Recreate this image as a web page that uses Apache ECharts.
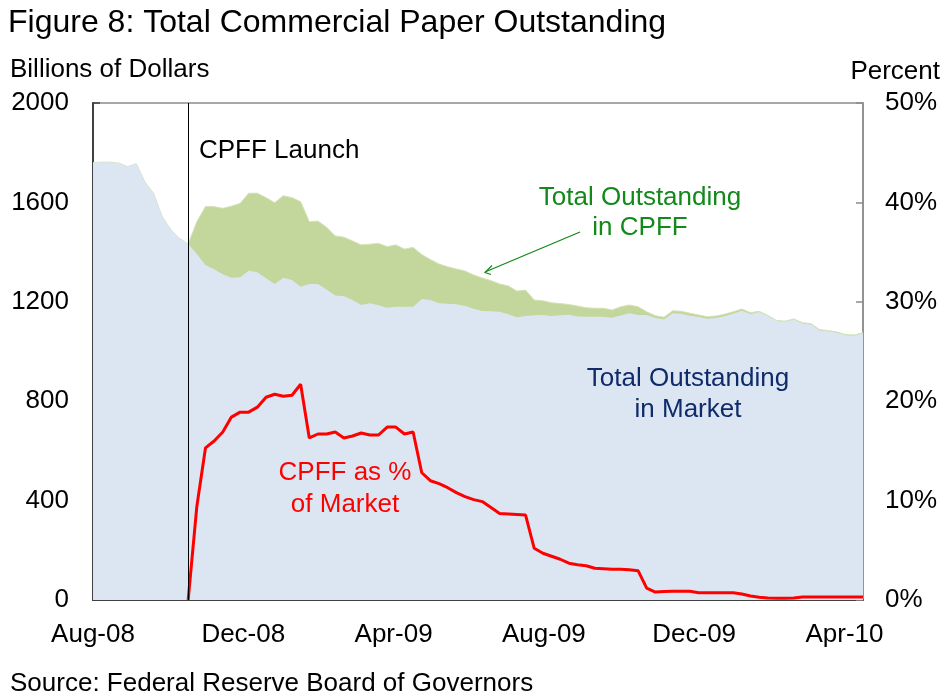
<!DOCTYPE html>
<html>
<head>
<meta charset="utf-8">
<title>Figure 8: Total Commercial Paper Outstanding</title>
<script src="https://cdn.jsdelivr.net/npm/echarts@6/dist/echarts.min.js"></script>
</head>
<body style="margin:0;background:#fff">
<div id="main" style="width:945px;height:696px;"></div>
<script>
// weekly points, index 0 = 6 Aug 2008 ... index 89 = 21 Apr 2010
var xLabels = ['Aug-08', 'Dec-08', 'Apr-09', 'Aug-09', 'Dec-09', 'Apr-10'];
var labelStep = 121.6 / 7;   // 4 months in weeks
var launchWeek = 11;

// total outstanding in market, $bn (blue)
var market = [
  1760, 1762, 1762, 1758, 1744, 1756, 1682, 1637, 1543, 1490,
  1455, 1433, 1392, 1348, 1331, 1311, 1297, 1299, 1325, 1319,
  1295, 1272, 1297, 1288, 1261, 1272, 1272, 1250, 1225, 1222,
  1207, 1187, 1194, 1186, 1176, 1180, 1180, 1180, 1211, 1207,
  1194, 1192, 1190, 1183, 1172, 1163, 1162, 1160, 1150, 1138,
  1143, 1146, 1147, 1143, 1146, 1148, 1141, 1140, 1140, 1140,
  1136, 1145, 1154, 1147, 1147, 1135, 1129, 1154, 1152, 1144,
  1139, 1132, 1135, 1142, 1152, 1164, 1151, 1159, 1143, 1123,
  1120, 1129, 1113, 1109, 1085, 1081, 1075, 1065, 1063, 1073
];

// total outstanding in CPFF, $bn (green, sits on top of market)
var cpff = [
  0, 0, 0, 0, 0, 0, 0, 0, 0, 0,
  0, 0, 130, 235, 252, 265, 288, 297, 312, 318,
  324, 327, 330, 331, 342, 250, 253, 250, 240, 238,
  238, 242, 238, 249, 246, 249, 232, 239, 179, 163,
  158, 149, 142, 141, 136, 133, 123, 112, 114, 105,
  104, 61, 57, 53, 47, 41, 42, 36, 34, 34,
  31, 35, 33, 33, 13, 9, 9, 10, 10, 10,
  8, 8, 8, 8, 8, 7, 5, 3, 2, 2,
  2, 2, 3, 3, 3, 3, 3, 3, 3, 3
];

// CPFF as % of market, from the launch week on (right axis)
var cpffShare = [
  0, 9.4, 15.3, 16.0, 16.9, 18.4, 18.9, 18.9, 19.4, 20.4,
  20.7, 20.5, 20.6, 21.7, 16.3, 16.7, 16.7, 16.9, 16.3, 16.5,
  16.8, 16.6, 16.6, 17.4, 17.4, 16.7, 16.9, 12.8, 12.0, 11.7,
  11.3, 10.8, 10.4, 10.1, 9.9, 9.3, 8.7, 8.65, 8.6, 8.55,
  5.2, 4.7, 4.4, 4.1, 3.7, 3.55, 3.45, 3.2, 3.15, 3.1,
  3.1, 3.05, 2.95, 1.2, 0.8, 0.85, 0.87, 0.87, 0.87, 0.74,
  0.74, 0.74, 0.74, 0.74, 0.6, 0.4, 0.27, 0.2, 0.17, 0.17,
  0.2, 0.3, 0.3, 0.3, 0.3, 0.3, 0.3, 0.3, 0.3
];

var font = "'Liberation Sans', Arial, sans-serif";

// green area is drawn as market + cpff, blue market area painted over it
var marketData = market.map(function (v, i) { return [i, v]; });
var totalData = market.map(function (v, i) { return [i, v + cpff[i]]; });
var shareData = cpffShare.map(function (v, i) { return [i + launchWeek, v]; });

var chart = echarts.init(document.getElementById('main'));

var option = {
    animation: false,
    textStyle: { fontFamily: font },
    grid: {
        left: 93, right: 82, top: 103, bottom: 96,
        show: true, borderColor: '#8c8c8c', borderWidth: 1.5,
        backgroundColor: 'transparent',
        outerBoundsMode: 'none'
    },
    xAxis: {
        type: 'value', min: 0, max: market.length - 1, interval: labelStep,
        splitLine: { show: false },
        axisLine: { lineStyle: { color: '#404040', width: 2 } },
        axisTick: { inside: true, length: 6, lineStyle: { color: '#404040', width: 1.5 } },
        axisLabel: {
            color: '#000', fontSize: 26, fontFamily: font, margin: 22,
            showMaxLabel: false,
            formatter: function (v) {
                var k = Math.round(v / labelStep);
                return Math.abs(v - k * labelStep) < 0.01 ? (xLabels[k] || '') : '';
            }
        }
    },
    yAxis: [{
        type: 'value', min: 0, max: 2000, interval: 400,
        splitLine: { show: false },
        axisLine: { show: true, lineStyle: { color: '#404040', width: 2 } },
        axisTick: { show: true, inside: true, length: 7, lineStyle: { color: '#404040', width: 1.5 } },
        axisLabel: { color: '#000', fontSize: 26, fontFamily: font, margin: 24,
                     formatter: function (v) { return String(v); } }
    }, {
        type: 'value', min: 0, max: 50, interval: 10, position: 'right',
        splitLine: { show: false },
        axisLine: { show: true, lineStyle: { color: '#8c8c8c', width: 1.5 } },
        axisTick: { show: true, inside: true, length: 7, lineStyle: { color: '#8c8c8c', width: 1.5 } },
        axisLabel: { color: '#000', fontSize: 26, fontFamily: font, margin: 22,
                     formatter: function (v) { return v + '%'; } }
    }],
    series: [{
        name: 'Total Outstanding in CPFF',
        type: 'line', data: totalData,
        showSymbol: false, symbol: 'none',
        lineStyle: { width: 1, color: '#d3e2b5' },
        areaStyle: { color: '#c3d69b', opacity: 1 },
        z: 1
    }, {
        name: 'Total Outstanding in Market',
        type: 'line', data: marketData,
        showSymbol: false, symbol: 'none',
        lineStyle: { width: 0 },
        areaStyle: { color: '#dce6f2', opacity: 1 },
        z: 2
    }, {
        name: 'CPFF as % of Market',
        type: 'line', yAxisIndex: 1, data: shareData,
        showSymbol: false, symbol: 'none',
        lineStyle: { width: 3, color: '#ff0000' },
        z: 4,
        markLine: {
            silent: true, symbol: 'none', label: { show: false },
            lineStyle: { color: '#000', width: 1, type: 'solid' },
            data: [{ xAxis: launchWeek }]
        }
    }],
    graphic: [
        { type: 'text', left: 8, top: 7,
          style: { text: 'Figure 8: Total Commercial Paper Outstanding', font: '32px ' + font, fill: '#000' } },
        { type: 'text', left: 10, top: 57,
          style: { text: 'Billions of Dollars', font: '26px ' + font, fill: '#000' } },
        { type: 'text', right: 5, top: 59,
          style: { text: 'Percent', font: '26px ' + font, fill: '#000' } },
        { type: 'text', left: 10, top: 671,
          style: { text: 'Source: Federal Reserve Board of Governors', font: '26px ' + font, fill: '#000' } },
        { type: 'text', z: 10,
          style: { text: 'CPFF Launch', x: 199, y: 151, font: '26px ' + font, fill: '#000',
                   align: 'left', verticalAlign: 'middle', textAlign: 'left', textVerticalAlign: 'middle' } },
        { type: 'text', z: 10,
          style: { text: 'Total Outstanding\nin CPFF', x: 640, y: 213, font: '26px ' + font, fill: '#12891a',
                   lineHeight: 30, align: 'center', verticalAlign: 'middle', textAlign: 'center', textVerticalAlign: 'middle' } },
        { type: 'text', z: 10,
          style: { text: 'Total Outstanding\nin Market', x: 688, y: 394, font: '26px ' + font, fill: '#102b6a',
                   lineHeight: 31, align: 'center', verticalAlign: 'middle', textAlign: 'center', textVerticalAlign: 'middle' } },
        { type: 'text', z: 10,
          style: { text: 'CPFF as %\nof Market', x: 345, y: 489, font: '26px ' + font, fill: '#ff0000',
                   lineHeight: 32, align: 'center', verticalAlign: 'middle', textAlign: 'center', textVerticalAlign: 'middle' } },
        { type: 'line', z: 10,
          shape: { x1: 580, y1: 232, x2: 485, y2: 272 },
          style: { stroke: '#12891a', lineWidth: 1.2 } },
        { type: 'polyline', z: 10,
          shape: { points: [[492, 265.5], [485, 272.5], [491, 274.5]] },
          style: { stroke: '#12891a', lineWidth: 1.2, fill: null } }
    ]
};

chart.setOption(option);
</script>
</body>
</html>
